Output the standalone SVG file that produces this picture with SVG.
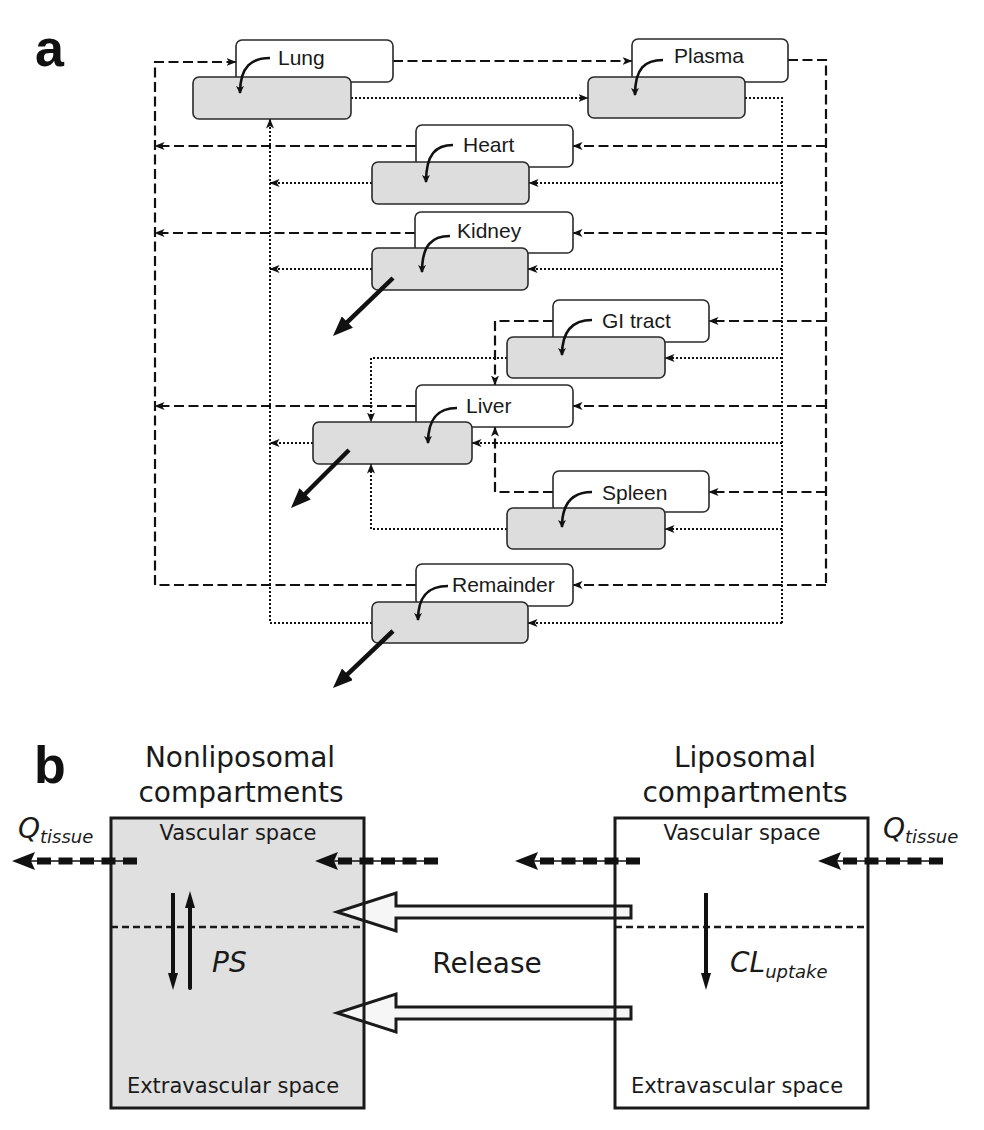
<svg xmlns="http://www.w3.org/2000/svg" width="984" height="1130" viewBox="0 0 984 1130">
<style>
.wb{fill:#ffffff;stroke:#2a2a2a;stroke-width:1.6}
.gb{fill:#dddddd;stroke:#2a2a2a;stroke-width:1.6}
.lbl{font-family:"Liberation Sans",Arial,sans-serif;font-size:21px;fill:#1a1a1a}
.cv{fill:none;stroke:#111;stroke-width:2.6}
.dash{fill:none;stroke:#111;stroke-width:2.2;stroke-dasharray:10 4.5}
.dot{fill:none;stroke:#111;stroke-width:2;stroke-dasharray:2 2}
.elim{fill:none;stroke:#111;stroke-width:4.5}
.panel{font-family:"Liberation Sans",Arial,sans-serif;font-weight:bold;font-size:52px;fill:#111}
.bt{font-family:"DejaVu Sans",Verdana,sans-serif;fill:#1a1a1a}
.box{fill:none;stroke:#1a1a1a;stroke-width:3}
.sep{fill:none;stroke:#1a1a1a;stroke-width:2.5;stroke-dasharray:7 4}
.thin{fill:none;stroke:#111;stroke-width:1.5}
.thick{fill:none;stroke:#111;stroke-width:7;stroke-dasharray:14 7.5}
.blk{fill:#f6f6f6;stroke:#1a1a1a;stroke-width:3}
.ar{fill:none;stroke:#111;stroke-width:4}
</style>
<defs>
<marker id="sm" viewBox="0 0 10 8" refX="9.5" refY="4" markerWidth="10" markerHeight="8" markerUnits="userSpaceOnUse" orient="auto">
<path d="M0,0 L10,4 L0,8 L2.5,4 z" fill="#111"/>
</marker>
<marker id="cm" viewBox="0 0 8 8" refX="7" refY="4" markerWidth="8" markerHeight="8" markerUnits="userSpaceOnUse" orient="auto">
<path d="M0,0 L8,4 L0,8 L2,4 z" fill="#111"/>
</marker>
<marker id="big" viewBox="0 0 20 16" refX="3" refY="8" markerWidth="20" markerHeight="16" markerUnits="userSpaceOnUse" orient="auto">
<path d="M0,0 L20,8 L0,16 z" fill="#111"/>
</marker>
</defs>

<text class="panel" x="35" y="66">a</text>
<text class="panel" x="34" y="783">b</text>

<g id="connectors">
<!-- dashed (vascular) -->
<path class="dash" d="M393,61 L632,61" marker-end="url(#sm)"/>
<path class="dash" d="M788,60 L826,60 L826,585"/>
<path class="dash" d="M826,146 L573,146" marker-end="url(#sm)"/>
<path class="dash" d="M826,233 L573,233" marker-end="url(#sm)"/>
<path class="dash" d="M826,321 L709,321" marker-end="url(#sm)"/>
<path class="dash" d="M826,406 L573,406" marker-end="url(#sm)"/>
<path class="dash" d="M826,492 L709,492" marker-end="url(#sm)"/>
<path class="dash" d="M826,585 L573,585" marker-end="url(#sm)"/>
<path class="dash" d="M416,146 L155,146" marker-end="url(#sm)"/>
<path class="dash" d="M415,233 L155,233" marker-end="url(#sm)"/>
<path class="dash" d="M416,406 L155,406" marker-end="url(#sm)"/>
<path class="dash" d="M416,585 L155,585 L155,62 L236,62" marker-end="url(#sm)"/>
<path class="dash" d="M553,321 L495,321 L495,385" marker-end="url(#sm)"/>
<path class="dash" d="M553,492 L495,492 L495,427" marker-end="url(#sm)"/>
<!-- dotted -->
<path class="dot" d="M351,98 L588,98" marker-end="url(#sm)"/>
<path class="dot" d="M745,98 L782,98 L782,623"/>
<path class="dot" d="M782,183 L529,183" marker-end="url(#sm)"/>
<path class="dot" d="M782,269 L528,269" marker-end="url(#sm)"/>
<path class="dot" d="M782,358 L665,358" marker-end="url(#sm)"/>
<path class="dot" d="M782,443 L472,443" marker-end="url(#sm)"/>
<path class="dot" d="M782,529 L665,529" marker-end="url(#sm)"/>
<path class="dot" d="M782,623 L528,623" marker-end="url(#sm)"/>
<path class="dot" d="M372,183 L270,183" marker-end="url(#sm)"/>
<path class="dot" d="M372,269 L270,269" marker-end="url(#sm)"/>
<path class="dot" d="M313,443 L270,443" marker-end="url(#sm)"/>
<path class="dot" d="M372,623 L270,623 L270,119" marker-end="url(#sm)"/>
<path class="dot" d="M507,358 L371,358 L371,422" marker-end="url(#sm)"/>
<path class="dot" d="M507,529 L371,529 L371,464" marker-end="url(#sm)"/>
</g>

<g id="node-lung">
<rect class="wb" x="236" y="40" width="157" height="42" rx="6"/>
<rect class="gb" x="193" y="77" width="158" height="42" rx="6"/>
<text class="lbl" x="278" y="65">Lung</text>
<path class="cv" d="M270,58 C252,58 240,66 240,93" marker-end="url(#cm)"/>
</g>
<g id="node-plasma">
<rect class="wb" x="632" y="39" width="156" height="43" rx="6"/>
<rect class="gb" x="588" y="77" width="157" height="41" rx="6"/>
<text class="lbl" x="674" y="63">Plasma</text>
<path class="cv" d="M663,60 C645,60 635,68 635,95" marker-end="url(#cm)"/>
</g>
<g id="node-heart">
<rect class="wb" x="416" y="125" width="157" height="42" rx="6"/>
<rect class="gb" x="372" y="162" width="157" height="42" rx="6"/>
<text class="lbl" x="463" y="152">Heart</text>
<path class="cv" d="M453,145 C436,145 426,154 426,182" marker-end="url(#cm)"/>
</g>
<g id="node-kidney">
<rect class="wb" x="415" y="212" width="158" height="41" rx="6"/>
<rect class="gb" x="372" y="248" width="156" height="42" rx="6"/>
<text class="lbl" x="457" y="238">Kidney</text>
<path class="cv" d="M450,236 C432,236 422,245 422,272" marker-end="url(#cm)"/>
<path class="elim" d="M393,278 L345.2,324.2" marker-end="url(#big)"/>
</g>
<g id="node-gi">
<rect class="wb" x="553" y="300" width="156" height="42" rx="6"/>
<rect class="gb" x="507" y="337" width="158" height="41" rx="6"/>
<text class="lbl" x="602" y="328">GI tract</text>
<path class="cv" d="M592,320 C575,320 562,328 562,355" marker-end="url(#cm)"/>
</g>
<g id="node-liver">
<rect class="wb" x="416" y="385" width="157" height="42" rx="6"/>
<rect class="gb" x="313" y="422" width="159" height="42" rx="6"/>
<text class="lbl" x="466" y="413">Liver</text>
<path class="cv" d="M457,408 C440,408 428,416 428,443" marker-end="url(#cm)"/>
<path class="elim" d="M349,450 L303,496" marker-end="url(#big)"/>
</g>
<g id="node-spleen">
<rect class="wb" x="553" y="471" width="156" height="41" rx="6"/>
<rect class="gb" x="507" y="508" width="158" height="41" rx="6"/>
<text class="lbl" x="602" y="500">Spleen</text>
<path class="cv" d="M592,492 C575,492 562,500 562,527" marker-end="url(#cm)"/>
</g>
<g id="node-remainder">
<rect class="wb" x="416" y="564" width="157" height="42" rx="6"/>
<rect class="gb" x="372" y="602" width="156" height="41" rx="6"/>
<text class="lbl" x="452" y="592">Remainder</text>
<path class="cv" d="M448,586 C430,586 418,594 418,620" marker-end="url(#cm)"/>
<path class="elim" d="M393,631 L345.3,676.3" marker-end="url(#big)"/>
</g>

<!-- Part b -->
<g id="panel-b">
<rect x="111" y="818" width="253" height="290" fill="#dfe0df"/>
<rect x="615" y="818" width="253" height="290" fill="#ffffff"/>
<polygon class="blk" points="631,906 396,906 396,893 337,912 396,931 396,918 631,918"/>
<polygon class="blk" points="631,1007 396,1007 396,994 337,1013 396,1032 396,1019 631,1019"/>
<rect class="box" x="111" y="818" width="253" height="290"/>
<rect class="box" x="615" y="818" width="253" height="290"/>
<path class="sep" d="M111,927 L364,927"/>
<path class="sep" d="M615,927 L868,927"/>

<g id="flow-arrows">
<path class="thin" d="M137,861 L30,861"/>
<path class="thick" d="M137,861 L36,861"/>
<polygon points="12,861 35,852 31,861 35,870" fill="#111"/>
<path class="thin" d="M438,861 L333,861"/>
<path class="thick" d="M438,861 L337,861"/>
<polygon points="315,861 338,852 334,861 338,870" fill="#111"/>
<path class="thin" d="M640,861 L533,861"/>
<path class="thick" d="M640,861 L539,861"/>
<polygon points="515,861 538,852 534,861 538,870" fill="#111"/>
<path class="thin" d="M943,861 L836,861"/>
<path class="thick" d="M943,861 L842,861"/>
<polygon points="818,861 841,852 837,861 841,870" fill="#111"/>
</g>

<g id="exchange-arrows">
<path class="ar" d="M173,893 L173,975"/>
<polygon points="168,973 178,973 173,990" fill="#111"/>
<path class="ar" d="M190,988 L190,906" stroke-linecap="round"/>
<polygon points="185,908 195,908 190,891" fill="#111"/>
<path class="ar" d="M706,893 L706,975"/>
<polygon points="701,973 711,973 706,990" fill="#111"/>
</g>

<text class="bt" x="240" y="767" font-size="28" text-anchor="middle">Nonliposomal</text>
<text class="bt" x="241" y="802" font-size="28" text-anchor="middle">compartments</text>
<text class="bt" x="745" y="767" font-size="28" text-anchor="middle">Liposomal</text>
<text class="bt" x="745" y="802" font-size="28" text-anchor="middle">compartments</text>
<text class="bt" x="238" y="840" font-size="21" text-anchor="middle">Vascular space</text>
<text class="bt" x="742" y="840" font-size="21" text-anchor="middle">Vascular space</text>
<text class="bt" x="233" y="1093" font-size="21" text-anchor="middle">Extravascular space</text>
<text class="bt" x="737" y="1093" font-size="21" text-anchor="middle">Extravascular space</text>
<text class="bt" x="18" y="838" font-size="28" font-style="italic">Q<tspan font-size="18" dy="5">tissue</tspan></text>
<text class="bt" x="883" y="838" font-size="28" font-style="italic">Q<tspan font-size="18" dy="5">tissue</tspan></text>
<text class="bt" x="212" y="972" font-size="28" font-style="italic">PS</text>
<text class="bt" x="730" y="972" font-size="28" font-style="italic">CL<tspan font-size="18" dy="6">uptake</tspan></text>
<text class="bt" x="487" y="973" font-size="28" text-anchor="middle">Release</text>
</g>
</svg>
